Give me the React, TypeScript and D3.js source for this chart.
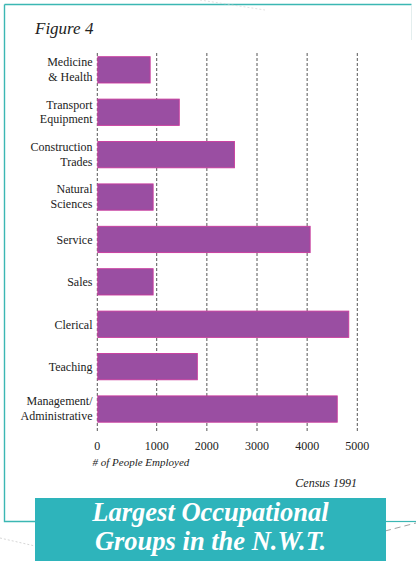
import React from "react";
import * as d3 from "d3";

const categories: string[][] = [
  ["Medicine", "& Health"],
  ["Transport", "Equipment"],
  ["Construction", "Trades"],
  ["Natural", "Sciences"],
  ["Service"],
  ["Sales"],
  ["Clerical"],
  ["Teaching"],
  ["Management/", "Administrative"],
];
const values: number[] = [890, 1450, 2550, 940, 4060, 940, 4830, 1810, 4600];
const ticks: number[] = [0, 1000, 2000, 3000, 4000, 5000];
const figureLabel = "Figure 4";
const axisTitle = "# of People Employed";
const source = "Census 1991";
const titleLines = ["Largest Occupational", "Groups in the N.W.T."];

const W = 416;
const H = 561;
const SERIF = "Liberation Serif, DejaVu Serif, serif";

export default function App() {
  // scanned axis is slightly uneven: 0→1000 spans wider than later intervals
  const x = d3.scaleLinear().domain([0, 1000, 5000]).range([97.3, 156.7, 357.3]);
  const keys = categories.map((c) => c.join(" "));
  const y = d3.scaleBand<string>().domain(keys).range([40.6, 438.3]).padding(0.38);

  const gridTop = 53;
  const gridBottom = 433;
  const teal = "#3bb7b3";
  const textStyle = { fontFamily: SERIF };

  return (
    <svg
      width={W}
      height={H}
      viewBox={`0 0 ${W} ${H}`}
      style={{ position: "absolute", left: 0, top: 0, background: "#fff" }}
    >
      {/* frame */}
      <path d={`M4.5,4.5 L411.5,4.5`} stroke={teal} strokeWidth={1.4} fill="none" />
      <path d={`M411.5,5 L411.5,40`} stroke="#e4eeee" strokeWidth={1} fill="none" />
      <path d={`M4.5,4.5 L4.5,521.5 L40,521.5`} stroke={teal} strokeWidth={1.4} fill="none" />
      <path d={`M384,521.5 L416,521.5`} stroke={teal} strokeWidth={1.2} fill="none" />
      <path d={`M385,531 L416,523`} stroke="#888" strokeWidth={0.8} strokeDasharray="6,4" fill="none" />
      <path d={`M0,538 L35,546`} stroke="#bbb" strokeWidth={0.6} strokeDasharray="2,2" fill="none" />
      <path d={`M200,0 L265,10`} stroke="#ccc" strokeWidth={0.6} strokeDasharray="2,2" fill="none" />

      <text x={35} y={33.5} style={textStyle} fontStyle="italic" fontSize={17} fill="#222">
        {figureLabel}
      </text>

      {/* gridlines */}
      {ticks.map((t) => (
        <line
          key={t}
          x1={x(t)}
          x2={x(t)}
          y1={gridTop}
          y2={gridBottom}
          stroke="#444"
          strokeWidth={0.9}
          strokeDasharray="3,2"
        />
      ))}

      {/* bars */}
      {values.map((v, i) => (
        <rect
          key={keys[i]}
          x={x(0) + 0.5}
          y={y(keys[i])!}
          width={x(v) - x(0) - 0.5}
          height={y.bandwidth()}
          fill="#9a4ea2"
          stroke="#c9399c"
          strokeWidth={0.9}
        />
      ))}

      {/* category labels */}
      {categories.map((lines, i) => {
        const cy = y(keys[i])! + y.bandwidth() / 2;
        return (
          <text key={keys[i]} x={92.5} textAnchor="end" style={textStyle} fontSize={12} fill="#222">
            {lines.length === 1 ? (
              <tspan x={92.5} y={cy + 4.5}>{lines[0]}</tspan>
            ) : (
              lines.map((l, j) => (
                <tspan key={j} x={92.5} y={cy - 3.6 + j * 14.7}>
                  {l}
                </tspan>
              ))
            )}
          </text>
        );
      })}

      {/* tick labels */}
      {ticks.map((t) => (
        <text key={t} x={x(t)} y={450} textAnchor="middle" style={textStyle} fontSize={12} fill="#222">
          {t}
        </text>
      ))}

      <text x={92.5} y={466} style={textStyle} fontStyle="italic" fontSize={11} fill="#222">
        {axisTitle}
      </text>
      <text x={357} y={486.5} textAnchor="end" style={textStyle} fontStyle="italic" fontSize={12} fill="#222">
        {source}
      </text>

      {/* title box */}
      <rect x={35} y={498} width={351} height={63} fill="#2eb4bb" />
      {titleLines.map((l, j) => (
        <text
          key={j}
          x={210.5}
          y={521 + j * 28.6}
          textAnchor="middle"
          style={textStyle}
          fontStyle="italic"
          fontWeight="bold"
          fontSize={26.5}
          fill="#fff"
        >
          {l}
        </text>
      ))}
    </svg>
  );
}
